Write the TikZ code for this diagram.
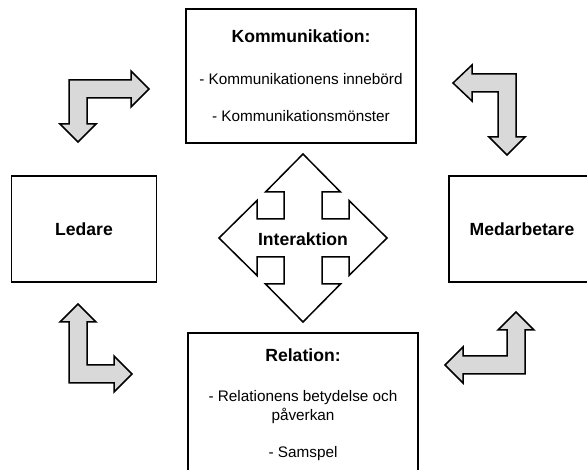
\documentclass[tikz,border=0pt]{standalone}
\usepackage{fontspec}
\setmainfont{Liberation Sans}
\usepackage{xcolor}
\definecolor{palegray}{RGB}{217,217,217}
\newcommand{\boxhead}[1]{{\fontsize{17.6}{21}\selectfont\bfseries #1}}
\tikzset{
box/.style = {rectangle, draw, line width=1.5pt, align=center, font=\fontsize{15.3}{19}\selectfont},
bent/.style = {draw, fill=palegray, line width=1.5pt, line join=miter},
cross/.style = {draw, fill=white, line width=1.5pt, line join=miter}
}

\begin{document}
\begin{tikzpicture}[x=1pt, y=-1pt]
    \useasboundingbox (0,0) rectangle (587,470);
    \clip (0,0) rectangle (587,470);

    % the four boxes
    \node [box, minimum width=230pt, minimum height=134pt] (komm) at (301,76)
        {\boxhead{Kommunikation:}\\[23pt]- Kommunikationens innebörd\\[18pt]- Kommunikationsmönster};
    \node [box, minimum width=145pt, minimum height=106pt] (ledare) at (84,229) {\boxhead{Ledare}};
    \node [box, minimum width=146pt, minimum height=106pt] (medarb) at (522,229) {\boxhead{Medarbetare}};
    \node [box, minimum width=230pt, minimum height=143pt] (relation) at (303,404.5)
        {\boxhead{Relation:}\\[21pt]- Relationens betydelse och\\påverkan\\[18pt]- Samspel};

    % cross arrow in the middle
    \draw [cross, shift={(303,238)}] (0,-84) -- (37.5,-46) -- (19,-46) -- (19,-19) -- (46,-19) -- (46,-37.5)
        -- (84,0) -- (46,37.5) -- (46,19) -- (19,19) -- (19,46) -- (37.5,46)
        -- (0,84) -- (-37.5,46) -- (-19,46) -- (-19,19) -- (-46,19) -- (-46,37.5)
        -- (-84,0) -- (-46,-37.5) -- (-46,-19) -- (-19,-19) -- (-19,-46) -- (-37.5,-46) -- cycle;
    \node (inter) at (303,239) {\boxhead{Interaktion}};

    % bent arrows in the corners
    \draw [bent] (69,80) -- (131,80) -- (131,71) -- (149,89) -- (131,107) -- (131,98) -- (87,98)
        -- (87,124) -- (96,124) -- (78,142) -- (60,124) -- (69,124) -- cycle;
    \draw [bent] (516,74) -- (472,74) -- (472,65) -- (453,83) -- (472,101) -- (472,92) -- (498,92)
        -- (498,137) -- (489,137) -- (507,155) -- (525,137) -- (516,137) -- cycle;
    \draw [bent] (69,383) -- (69,322) -- (60,322) -- (78,304) -- (96,322) -- (87,322) -- (87,365)
        -- (114,365) -- (114,356) -- (132,374) -- (114,392) -- (114,383) -- cycle;
    \draw [bent] (525,374) -- (525,330) -- (534,330) -- (516,312) -- (498,330) -- (507,330) -- (507,356)
        -- (463,356) -- (463,347) -- (445,365) -- (463,383) -- (463,374) -- cycle;
\end{tikzpicture}
\end{document}
